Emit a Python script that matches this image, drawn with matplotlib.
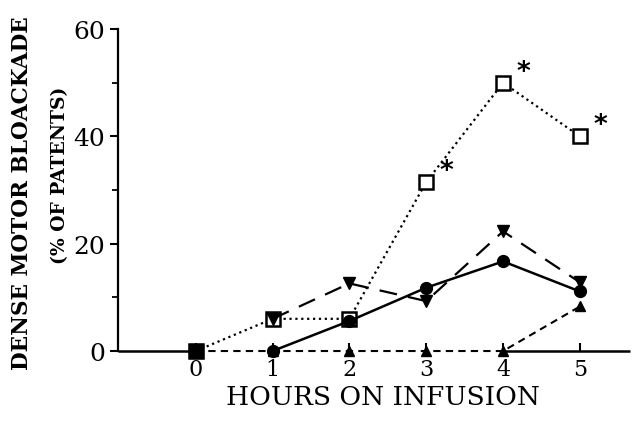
import matplotlib
matplotlib.use("Agg")
import matplotlib.pyplot as plt

hours = [0, 1, 2, 3, 4, 5]
squares_y = [0, 6.0, 6.0, 31.5, 50.0, 40.0]
circles_x = [1, 2, 3, 4, 5]
circles_y = [0, 5.6, 11.8, 16.7, 11.1]
tridown_x = [1, 2, 3, 4, 5]
tridown_y = [6.0, 12.6, 9.3, 22.3, 12.8]
triup_y = [0, 0, 0, 0, 0, 8.3]
star_x = [3, 4, 5]
star_y = [31.5, 50.0, 40.0]
yticks = [0, 20, 40, 60]

fig = plt.figure(figsize=(6.33, 4.27), dpi=100)
ax = fig.add_axes([0.186, 0.1756, 0.809, 0.754])
ax.set_xlim(-1.016, 5.65)
ax.set_ylim(0, 60)

ax.plot(hours, triup_y, linestyle=(0, (3.5, 2.5)), color='black', lw=1.5,
        marker='^', markersize=7.5, markerfacecolor='black', zorder=3, clip_on=False)
ax.plot(hours, squares_y, linestyle=':', color='black', lw=1.6,
        marker='s', markersize=9.5, markerfacecolor='white', markeredgewidth=1.8, zorder=2, clip_on=False)
ax.plot(hours[:1], squares_y[:1], linestyle='none', color='black',
        marker='s', markersize=9.5, markerfacecolor='black', zorder=4, clip_on=False)
ax.plot(tridown_x, tridown_y, linestyle=(0, (8, 5)), color='black', lw=1.6,
        marker='v', markersize=8.5, markerfacecolor='black', zorder=3, clip_on=False)
ax.plot(circles_x, circles_y, linestyle='-', color='black', lw=1.8,
        marker='o', markersize=8.5, markerfacecolor='black', zorder=3, clip_on=False)

for x, y in zip(star_x, star_y):
    ax.annotate('*', (x, y), xytext=(14.5, 8), textcoords='offset points',
                fontsize=19, fontweight='bold', ha='center', va='center',
                family='DejaVu Sans')

# axes lines
for s in ['top', 'right', 'bottom']:
    ax.spines[s].set_visible(False)
ax.spines['left'].set_linewidth(1.6)
ax.hlines(0, -1.016, 0, color='black', lw=1.8, zorder=1, clip_on=False)
ax.hlines(0, 4, 5.65, color='black', lw=1.8, zorder=1, clip_on=False)

ax.set_yticks(yticks)
ax.set_yticks([10, 30, 50], minor=True)
ax.set_xticks(hours)
ax.tick_params(axis='y', which='major', direction='out', length=6, width=1.5,
               labelsize=18, pad=3)
ax.tick_params(axis='y', which='minor', direction='out', length=4, width=1.3)
ax.tick_params(axis='x', which='major', direction='in', length=6, width=1.5,
               labelsize=16, pad=5)
for lab in ax.get_yticklabels() + ax.get_xticklabels():
    lab.set_family('DejaVu Serif')

fig.text(0.034, 0.548, 'DENSE MOTOR BLOACKADE', rotation=90, ha='center', va='center',
         fontsize=15.6, fontweight='bold', family='DejaVu Serif')
fig.text(0.095, 0.59, '(% OF PATENTS)', rotation=90, ha='center', va='center',
         fontsize=13.5, fontweight='bold', family='DejaVu Serif')
fig.text(0.605, 0.068, 'HOURS ON INFUSION', ha='center', va='center',
         fontsize=19, family='DejaVu Serif')

fig.savefig('out.png', dpi=100)
